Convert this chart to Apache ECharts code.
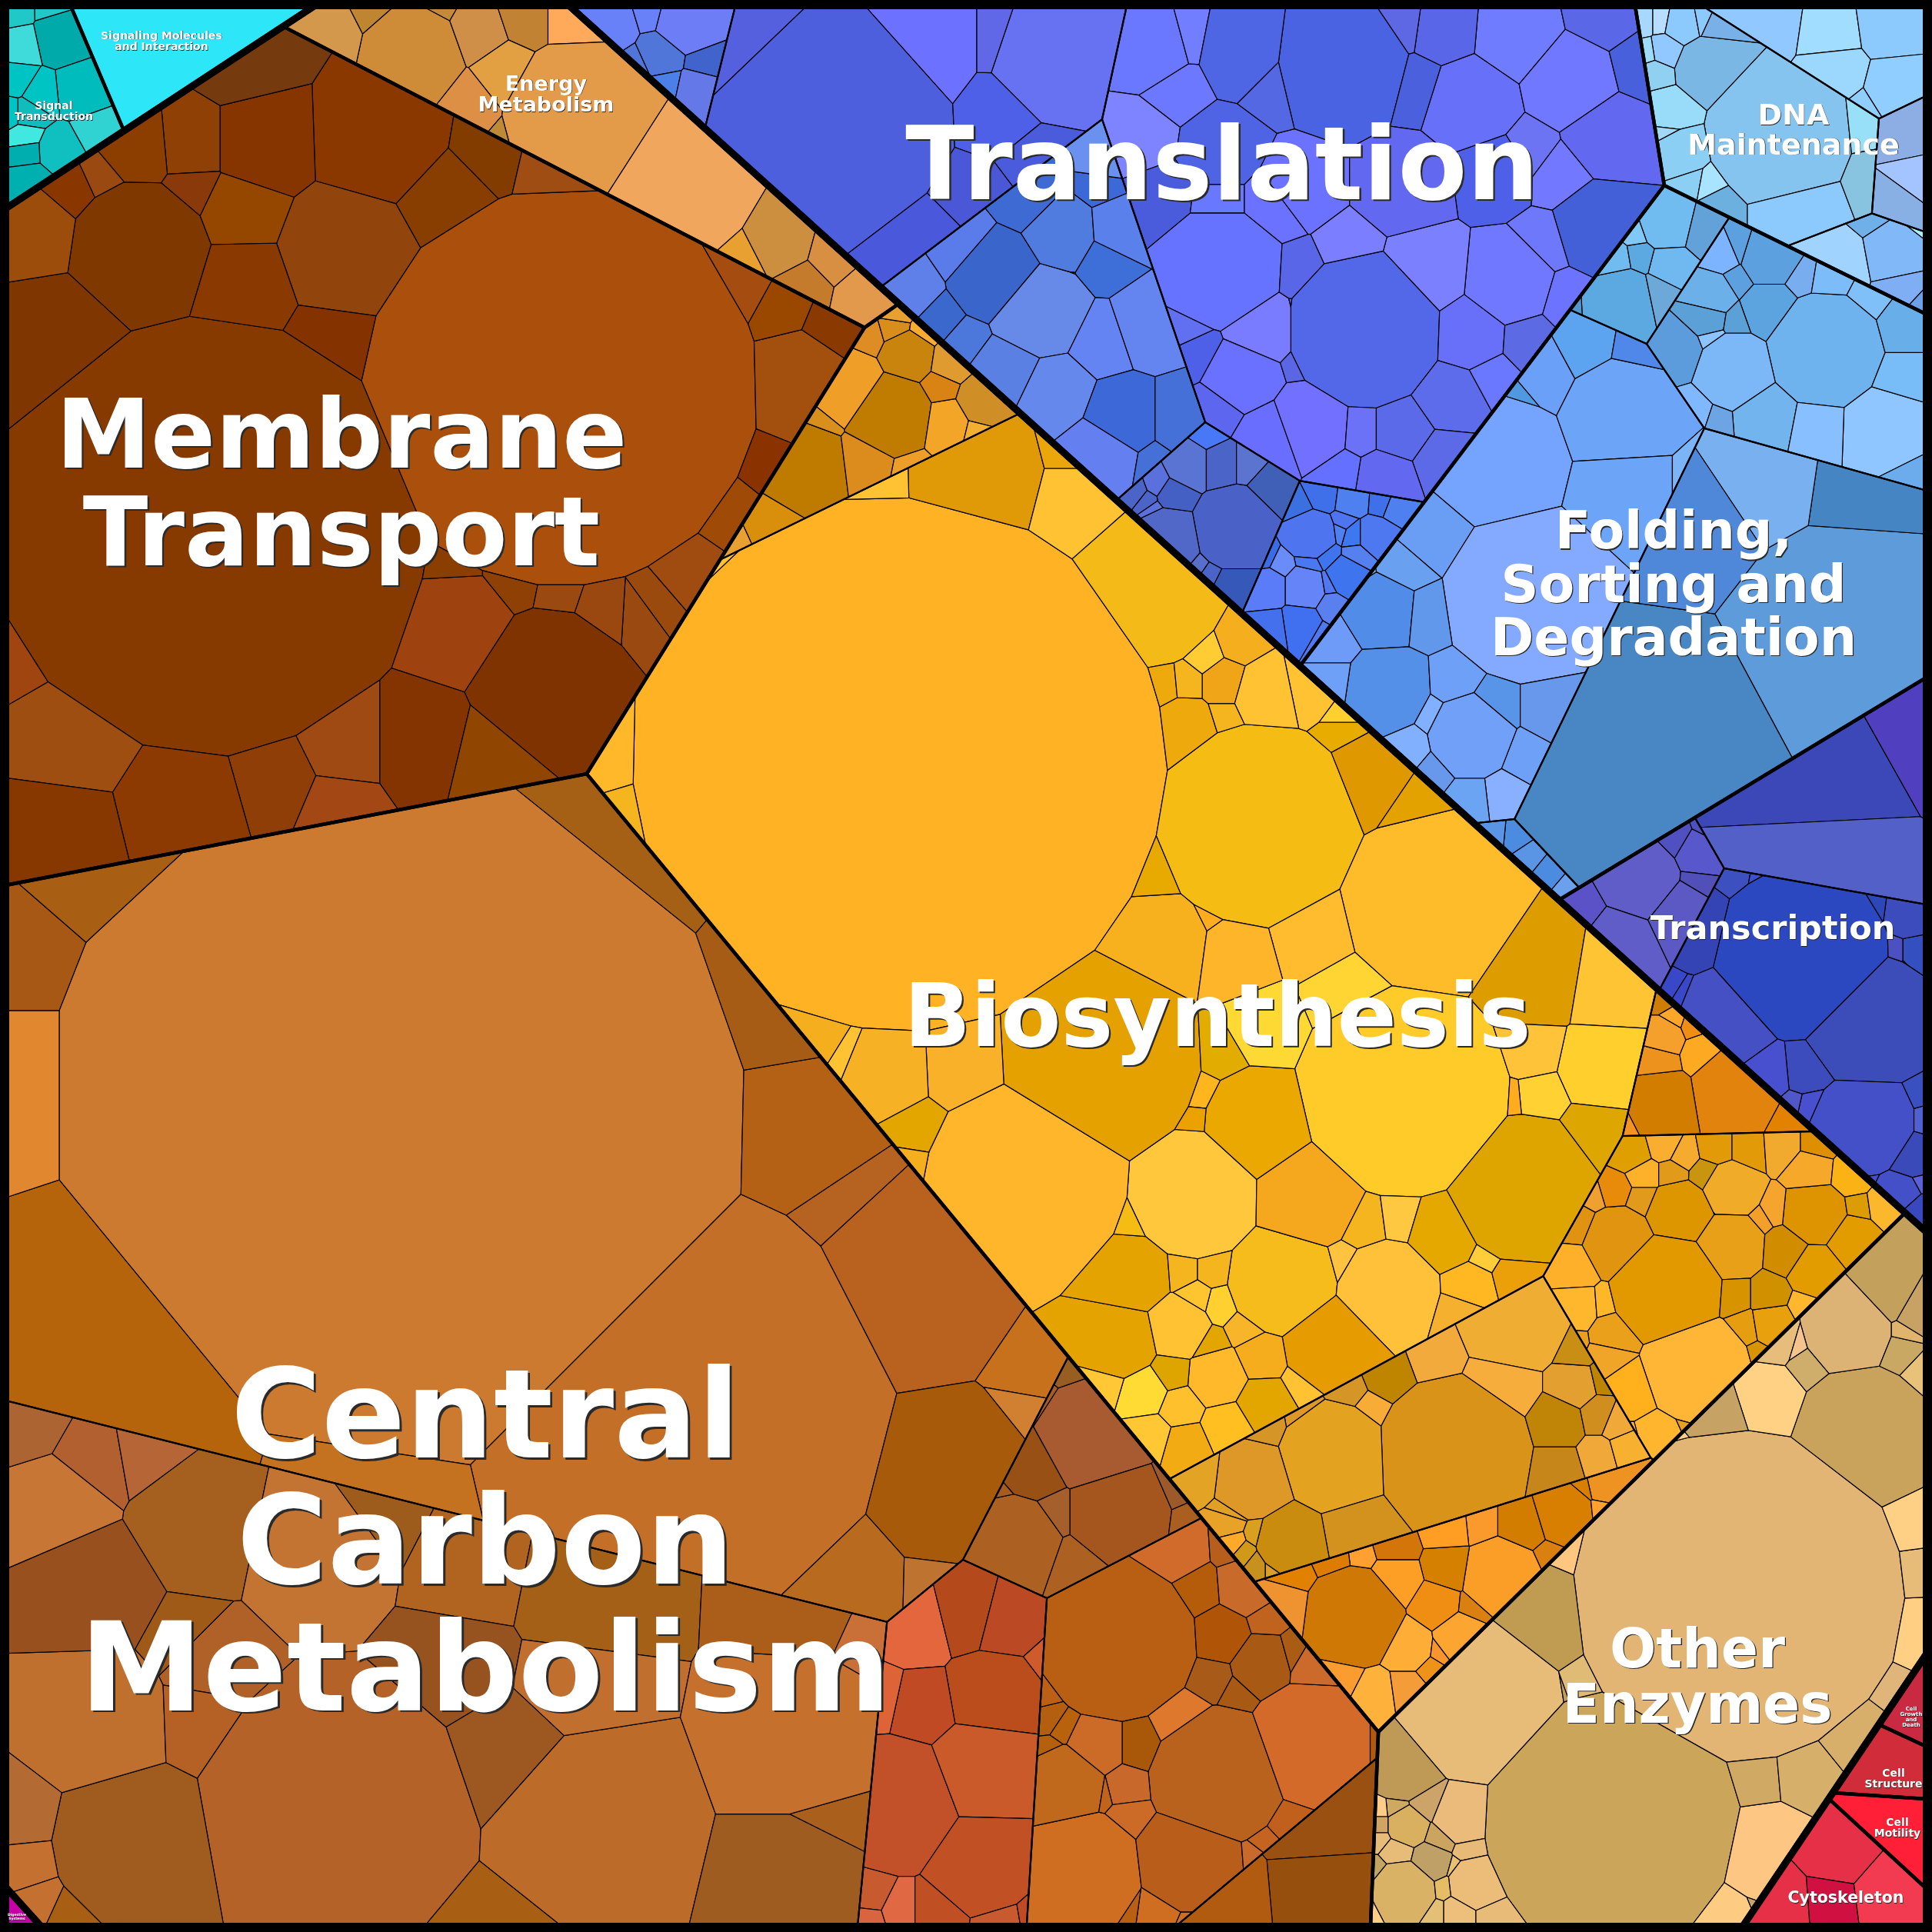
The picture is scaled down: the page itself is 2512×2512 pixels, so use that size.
<!DOCTYPE html>
<html><head><meta charset="utf-8">
<style>html,body{margin:0;padding:0;background:#000}#c{width:2512px;height:2512px}</style>
<script src="https://cdn.jsdelivr.net/npm/echarts@6/dist/echarts.min.js"></script>
</head><body><div id="c"></div>
<script>
// Voronoi-treemap seeds. Every cell is derived at runtime as a power-diagram
// cell of these seeds (x, y, weight or radius) and mapped to the canvas through hidden value axes.
const kingdoms=[['Metabolism',1250,1400,0],['Genetic',2177,374,0],['Environmental',-534,-1318,0],['Cellular',3671,3032,0],['Organismal',-1167,3583,0],['Unclassified',4139,2699,0]];
const pathways=[
['Biosynthesis','Metabolism',1450,1200,1000000],['Central Carbon Metabolism','Metabolism',765,1766,1067600],['Membrane Transport','Metabolism',549,639,670760],['Energy Metabolism','Metabolism',766,220,465248],['Other Enzymes','Metabolism',2059,1818,36000],
['Folding','Genetic',2100,700,200000],['Translation','Genetic',1600,321,309600],['DNA Maintenance','Genetic',2346,200,20100],['Transcription','Genetic',2441,1263,153750],
['Signaling Molecules','Environmental',250,50,0],['Signal Transduction','Environmental',13,151,0],
['Cell Structure','Cellular',2470,2290,0],['Cell Growth','Cellular',2497,2232,0],['Cell Motility','Cellular',2464,2383,0],['Cytoskeleton','Cellular',2429,2421,0],
['Digestive Systems','Organismal',0,0,0],['Unclassified','Unclassified',0,0,0]];

const membraneCells=[[272,697,280,'#873a00'],[729,505,256,'#ab4f0c'],[179,327,88,'#7f3800'],[493,182,88,'#8a3800'],[348,187,65,'#873500'],[453,324,88,'#91450c'],[319,273,50,'#954700'],[321,370,58,'#8a3a00'],[573,257,62,'#883e00'],[249,187,42,'#8f4005'],[182,193,40,'#8c3e00'],[437,440,50,'#843300'],[70,445,85,'#7f3600'],[48,308,50,'#9c4d0c'],[252,241,25,'#8a3a0a'],[96,252,22,'#8a3600'],[131,236,14,'#9a4a10'],[627,204,40,'#833c00'],[718,225,35,'#a04d14'],[320,70,60,'#753a0e'],[715,886,90,'#7f3300'],[596,809,62,'#9e4210'],[545,964,56,'#833400'],[633,985,40,'#904500'],[449,964,50,'#9e4a12'],[365,1006,34,'#8f3e08'],[440,1038,28,'#a34815'],[227,1045,68,'#8c3a02'],[96,961,72,'#9e4e10'],[80,1081,70,'#863800'],[1033,498,65,'#a34f0d'],[1011,407,28,'#9a4800'],[953,375,40,'#a54c10'],[1076,434,22,'#8a3900'],[990,605,22,'#8a3300'],[947,659,30,'#a04a08'],[888,745,35,'#a04c10'],[851,777,28,'#9a4a0c'],[836,788,24,'#9a4a10'],[32,850,28,'#a04510'],[593,753,20,'#8a3f00'],[665,753,25,'#8f4005'],[729,766,18,'#9a4a10'],[785,785,25,'#9a4810']];

const energyCells=[[536,80,72,'#cf8c38'],[420,55,50,'#d3984c'],[485,22,20,'#bf8530'],[568,20,18,'#c48a38'],[620,50,42,'#cf8f48'],[680,30,30,'#c28233'],[651,95,45,'#e3a043'],[603,133,48,'#dd8f45'],[745,30,30,'#ffa95b'],[750,150,95,'#e39a49'],[890,240,85,'#f0a65c'],[1017,316,38,'#cc8f40'],[1080,333,28,'#d98f42'],[1044,368,28,'#c47c2c'],[1125,385,30,'#e2994b'],[386,32,10,'#cf7a33'],[653,176,14,'#bf8a36'],[976,337,10,'#e8a030']];

const bioMainCells=[[1170,993,345,'#ffb224'],[1637,1073,131,'#f5bd14'],[1862,1174,118,'#ffbc2a'],[1826,1418,136,'#ffcb28'],[1982,1546,95,'#dea500'],[1553,1553,82,'#ffc83c'],[1333,1538,130,'#ffb62a'],[1431,1378,128,'#e5a100'],[1490,770,95,'#f3ba18'],[1668,1665,70,'#f5bc1c'],[1804,1678,65,'#ffc13a'],[1700,1555,68,'#f5a81e'],[1636,1462,70,'#eba800'],[1454,1743,50,'#e5a300'],[1470,1657,50,'#e5a300'],[1732,1748,62,'#e69b00'],[1531,1727,40,'#ffc233'],[1582,1791,38,'#ffb92a'],[1641,1764,30,'#f5ad1e'],[1644,1826,35,'#e3a500'],[1596,1855,32,'#ffbf20'],[1488,1810,32,'#ffdb33'],[1542,1879,30,'#f2ab12'],[1534,1829,28,'#ffc02e'],[1496,1866,28,'#ffc733'],[1440,1796,22,'#ffc733'],[1523,1786,25,'#dea500'],[1571,1751,20,'#e3a500'],[1587,1695,18,'#ffd030'],[1555,1687,18,'#ffc530'],[1537,1652,18,'#f5b51e'],[1577,1652,18,'#f5b51e'],[1622,1727,20,'#f9b52a'],[1775,1593,28,'#f5b51e'],[1820,1587,25,'#ffc840'],[1877,1604,45,'#e5a800'],[1746,1644,22,'#ffc340'],[1909,1673,28,'#ffb822'],[1973,1657,25,'#eba00a'],[1930,1630,15,'#ffcc3a'],[1898,1705,25,'#f5b030'],[1695,1796,22,'#ffc233'],[1993,1263,70,'#dd9c00'],[2090,1279,55,'#ffc433'],[2084,1386,52,'#ffcf2e'],[1988,1365,35,'#ffc33a'],[2000,1424,25,'#ffd133'],[2074,1477,38,'#dea600'],[1969,1427,10,'#ffad1e'],[1777,1017,55,'#e09800'],[1833,1055,40,'#e3a200'],[1742,952,15,'#e8ab00'],[1742,926,15,'#ffd02e'],[1699,894,40,'#ffc233'],[1757,1290,50,'#ffd533'],[1712,1210,55,'#ffbc2e'],[1590,1370,20,'#e3ad00'],[1644,1338,40,'#ffd933'],[1510,1226,60,'#f7b11e'],[1606,1239,45,'#ffb52a'],[1504,1129,30,'#e8aa00'],[1542,947,38,'#eeaa0c'],[1593,888,28,'#f0a418'],[1512,891,18,'#eeaa0c'],[1544,888,16,'#f5b51e'],[1569,856,14,'#ffcc33'],[1612,840,18,'#f5ae1e'],[1650,904,45,'#ffc232'],[1593,931,18,'#f5b51e'],[1574,1194,12,'#ffad1e'],[1563,1425,12,'#ffb51e'],[1560,1456,12,'#eba200'],[1258,1387,48,'#f9b12a'],[1151,1392,50,'#f7b124'],[1194,1472,22,'#e3a600'],[1065,1349,25,'#f5ae1e'],[1102,1372,12,'#ffc233'],[1188,1510,12,'#f5ae1e'],[1475,1590,14,'#f5bc14'],[1268,627,85,'#e09a08'],[1392,659,50,'#ffc233'],[1161,630,10,'#ffc233'],[1392,595,14,'#eba60c'],[926,737,12,'#ffc233'],[793,985,14,'#ffb82a'],[817,1065,15,'#f5b51e']];
const bioTopCells=[[1046,605,55,'#bf7a00'],[1156,541,55,'#bf7c00'],[1102,504,48,'#ef9e28'],[1127,595,35,'#dc8c1c'],[1228,552,28,'#f3a528'],[1180,463,32,'#c8840c'],[1279,522,28,'#d08e26'],[1234,471,20,'#df9a30'],[1220,503,14,'#d98314'],[1129,439,14,'#dd8d24'],[1164,429,14,'#d98e1c'],[1167,410,10,'#e8a030'],[1199,434,12,'#f9ab30'],[1068,546,20,'#d98f1c'],[1177,605,15,'#ec9e28'],[998,686,28,'#d98e0c'],[963,702,12,'#e8a030'],[1269,562,10,'#f3b030']];
const bioGoldCells=[[1893,1887,100,'#d99318'],[1735,1893,68,'#e3a220'],[1628,1925,48,'#dd9828'],[1764,1989,35,'#d3921e'],[1676,2005,42,'#c98c0e'],[1968,1721,68,'#f0ad34'],[1866,1764,36,'#f3aa3c'],[1952,1802,50,'#f6ad3c'],[2043,1802,32,'#e3a030'],[2021,1850,38,'#c08506'],[2021,1909,35,'#c6861a'],[2075,1893,22,'#f0a838'],[2075,1839,22,'#d08e1e'],[2115,1882,18,'#f8b030'],[2102,1850,18,'#f0a838'],[2046,1759,22,'#c98e14'],[2078,1794,14,'#bd8400'],[1807,1786,32,'#bf8400'],[1783,1829,15,'#f8ac38'],[1756,1807,16,'#d69527'],[1700,1845,14,'#dd9828'],[1644,1855,12,'#d69527'],[1561,1917,25,'#e3a426'],[1604,1962,14,'#e0a025'],[1598,1981,14,'#e8a228'],[1636,1995,12,'#d9a020'],[1604,2005,10,'#ffa928'],[1620,2019,10,'#d09a18'],[1636,2032,12,'#c8901c'],[1657,2032,14,'#d8a028']];
const bioStripCells=[[1759,2102,65,'#d07806'],[1952,2048,50,'#fa9e28'],[1882,2037,30,'#d58000'],[1866,2086,30,'#ef8e12'],[1815,2054,32,'#fd9f24'],[1979,1984,32,'#d27c00'],[2032,1968,38,'#d87e00'],[1928,1984,20,'#fa9a2c'],[1879,1989,28,'#ff9e22'],[1815,2011,25,'#d4750a'],[1770,2024,12,'#ffa030'],[1732,2029,20,'#dd7c00'],[1684,2051,20,'#e28000'],[1673,2091,32,'#ef9230'],[1829,2139,32,'#feae36'],[1898,2129,32,'#fca530'],[1877,2145,15,'#f9952c'],[1914,2091,15,'#d98010'],[1786,2204,28,'#feb23c'],[1743,2182,25,'#fb9c30'],[1829,2198,22,'#f49c38'],[1861,2171,12,'#ef9318'],[2086,1930,22,'#ee9222'],[2059,1936,12,'#d97f00'],[2080,1963,10,'#ffa030'],[2011,2021,12,'#d98010']];
const bioWedgeCells=[[2256,1419,55,'#e2830e'],[2160,1435,45,'#d27c00'],[2154,1381,25,'#ee921e'],[2162,1349,25,'#f59f2c'],[2213,1370,22,'#fdaa22'],[2176,1325,12,'#fca62a'],[2200,1333,12,'#ef8e12'],[2162,1301,10,'#cf7e05'],[2331,1459,18,'#e38100'],[2119,1456,10,'#f49222']];
const bioRightCells=[[2106,1617,48,'#e09410'],[2184,1579,45,'#dd9500'],[2250,1547,38,'#f0ab28'],[2248,1622,47,'#e8a018'],[2360,1579,42,'#de9300'],[2323,1627,32,'#d18c00'],[2406,1611,32,'#e39c00'],[2358,1650,35,'#e39c00'],[2220,1529,22,'#c9950e'],[2122,1499,25,'#df9f00'],[2162,1488,22,'#f9ae30'],[2189,1502,18,'#f7ab2e'],[2232,1494,22,'#e39a08'],[2272,1494,22,'#e39a08'],[2317,1491,22,'#f1a92e'],[2363,1491,20,'#de8f00'],[2355,1523,28,'#f5a82a'],[2406,1528,25,'#fbb214'],[2414,1571,15,'#dc9c06'],[2449,1566,18,'#fbb82c'],[2138,1528,22,'#fdb02a'],[2173,1528,20,'#e19a1a'],[2101,1547,20,'#e88a0a'],[2138,1560,22,'#e29a1c'],[2074,1555,10,'#f0a030'],[2052,1595,22,'#df9310'],[2229,1566,14,'#f8b020'],[2309,1574,14,'#f5a52e'],[2288,1587,10,'#f3a02a'],[2047,1649,30,'#ffb02a'],[2050,1699,30,'#ffb72e'],[2090,1696,22,'#ffb72a'],[2101,1734,32,'#eba01c'],[2047,1742,10,'#eba01c'],[2205,1779,72,'#ffb636'],[2168,1677,75,'#e29900'],[2251,1683,30,'#d89400'],[2267,1726,25,'#e69e10'],[2304,1720,30,'#e8a00c'],[2299,1683,28,'#cf9100'],[2342,1699,18,'#ffb72e'],[2125,1806,38,'#ffb01c'],[2095,1763,28,'#f0a428'],[2157,1862,30,'#ffb52e'],[2186,1849,14,'#e8a020'],[2127,1870,12,'#ffb72e'],[2283,1758,15,'#d89400']];

// a negative radius stands for a negative seed weight
const carbonACells=[[520,1470,445,'#cb7a2f'],[880,1830,280,'#c46f27'],[1190,1670,130,'#b96220'],[1230,1920,110,'#a75a0a'],[1041,1482,75,'#b46115'],[1105,1578,50,'#b66221'],[1010,1298,50,'#a65c14'],[800,1121,60,'#a66016'],[88,1826,288,'#b5640c'],[-30,1470,115,'#e0872f'],[-30,1254,-87,'#a65814'],[139,1060,-22,'#a85f14'],[1343,1774,35,'#c8711c'],[450,1930,166,'#c47220'],[1088,2047,80,'#b86a1e'],[1214,2050,18,'#be7330'],[1332,1838,15,'#d08030']];
const carbonBCells=[[439,2352,170,'#b46228'],[171,2400,95,'#9f5c1e'],[123,2234,85,'#c0702e'],[118,2068,75,'#98501f'],[257,1983,70,'#a56020'],[70,1956,60,'#c87636'],[113,1902,38,'#b26030'],[40,1860,30,'#ad6433'],[187,1889,16,'#b56536'],[412,2015,78,'#c47432'],[471,1972,35,'#9e5c1c'],[616,2047,50,'#b06420'],[750,2074,60,'#a56018'],[595,2170,60,'#96521f'],[268,2165,35,'#b06128'],[236,2133,15,'#a05a18'],[659,2277,70,'#9c5820'],[761,2368,110,'#bc6c28'],[734,2197,50,'#c06f2e'],[1054,2438,70,'#9e5c20'],[1086,2374,40,'#aa5f1c'],[1054,2261,90,'#c6702d'],[1064,2090,30,'#aa5e1a'],[1134,2122,15,'#c87038'],[21,2368,30,'#b36a33'],[27,2427,30,'#c47030'],[43,2475,25,'#c47030'],[80,2492,10,'#a85f14'],[640,2520,30,'#a85f14'],[257,2229,30,'#b56125']];
const carbonCCells=[[1423,1865,75,'#a85a30'],[1455,1967,68,'#a5561f'],[1345,1908,45,'#995015'],[1316,2007,65,'#ac6022'],[1372,1967,30,'#a45f2d'],[1399,2036,38,'#ac6022'],[1303,1945,18,'#a65c1c'],[1517,1940,22,'#9c5a2a'],[1533,1977,14,'#aa5f20'],[1396,1787,22,'#985d20'],[1364,1827,20,'#a85c20']];
const carbonDCells=[[1193,2117,45,'#e4663c'],[1262,2100,48,'#b44a1c'],[1305,2111,48,'#bb4a24'],[1292,2202,60,'#bb4d1c'],[1201,2218,42,'#c04a24'],[1155,2208,25,'#de6336'],[1166,2347,85,'#c25029'],[1279,2304,70,'#ca5a2a'],[1276,2422,70,'#c15024'],[1225,2481,32,'#c05024'],[1297,2492,28,'#c85a30'],[1166,2481,18,'#e06842'],[1134,2465,20,'#c85a30'],[1131,2492,14,'#d96540'],[1332,2486,10,'#c04a24'],[1348,2159,12,'#cf5a2c']];
const carbonECells=[[1453,2133,105,'#b85f14'],[1584,2309,90,'#b8621e'],[1702,2267,80,'#d36a2a'],[1410,2433,75,'#cf6e20'],[1546,2417,70,'#b95e1a'],[1640,2165,40,'#a85a14'],[1584,2125,40,'#b05408'],[1573,2181,30,'#a85a18'],[1552,2068,38,'#b55c0a'],[1616,2063,38,'#c76a2a'],[1536,2240,42,'#dd782c'],[1608,2200,22,'#a85a14'],[1525,2020,45,'#d06b2c'],[1600,2015,22,'#b85e1c'],[1643,2106,18,'#c0631e'],[1680,2154,22,'#ab5c14'],[1707,2170,30,'#cc6a2c'],[1482,2267,35,'#a85808'],[1429,2267,40,'#cc6a28'],[1383,2245,18,'#b8620e'],[1359,2229,25,'#b45e10'],[1364,2272,12,'#b4600c'],[1386,2320,50,'#c0681c'],[1466,2320,28,'#c8682a'],[1434,2328,14,'#bf6418'],[1471,2360,22,'#cc6a28'],[1640,2390,12,'#c46420'],[1624,2411,12,'#c96a2c'],[1354,2208,25,'#bb6014'],[1790,2267,12,'#b05a10'],[1509,2476,28,'#cf6e20'],[1466,2470,15,'#b85f14'],[1546,2492,12,'#cf6e20'],[1670,2362,22,'#c0601c']];
const carbonFCells=[[1712,2368,70,'#9a5010'],[1718,2459,70,'#974f0e'],[1595,2470,60,'#b15b10']];

const enzymeCells=[[2261,2074,215,'#e2b574'],[2095,2368,165,'#cba55a'],[2422,1865,90,'#c9a25c'],[1921,2208,110,'#e6bc78'],[2403,1736,55,'#dcb374'],[2299,1822,48,'#ffd185'],[2000,2106,70,'#c09c52'],[2299,2411,62,'#fdc682'],[1827,2288,55,'#bf9a56'],[2285,2310,28,'#d0a964'],[2352,2304,40,'#d6b06a'],[2411,2256,45,'#d7af6a'],[2492,2117,38,'#ffd083'],[2489,2047,28,'#e6bc78'],[2481,1988,22,'#fdd085'],[2352,1779,25,'#cfae6c'],[2309,1747,25,'#e6bd7a'],[2470,1763,25,'#c9a864'],[2476,1736,12,'#e0b46c'],[2492,1710,20,'#c7a264'],[2454,1688,25,'#c3a05c'],[2492,1784,22,'#e9c27a'],[2336,1755,12,'#f4c48c'],[2234,1843,45,'#c6a264'],[2208,1865,10,'#ffd083'],[2036,2020,15,'#ffc680'],[1900,2358,42,'#ebbb7c'],[1860,2342,30,'#cca368'],[1833,2374,30,'#d9b060'],[1873,2387,25,'#cba460'],[1819,2350,18,'#cfa862'],[1798,2352,10,'#ffcc88'],[1798,2374,12,'#d0a562'],[1798,2392,12,'#e6bc78'],[1819,2409,22,'#e6bc78'],[1860,2419,28,'#bfa066'],[1825,2459,42,'#d9b265'],[1908,2401,20,'#e8ba78'],[1918,2449,35,'#ebbd78'],[1876,2454,14,'#e6bc64'],[1889,2427,12,'#e9c170'],[1897,2486,22,'#ecc07a'],[1865,2486,15,'#e3c076'],[1934,2486,15,'#e8bb78'],[1793,2433,14,'#c2a560'],[1785,2480,8,'#ffd083'],[2250,2486,28,'#fdcb82'],[2277,2475,8,'#c8a466'],[2454,2200,12,'#e0b57a'],[2020,2192,10,'#bf9c5a'],[2050,2181,18,'#e0bb76']];

const tlBigCells=[[1092,155,135,'#4d5fdc'],[1199,59,60,'#6c72ff'],[1376,80,80,'#6672f2'],[1311,145,40,'#4f60e8'],[1314,59,22,'#6068e8'],[979,37,20,'#5560df'],[1354,198,32,'#4a5cdc'],[1269,262,18,'#4a58d8'],[1215,316,22,'#4a58dc']];
const tlLeftCells=[[894,32,40,'#6d7df5'],[861,72,30,'#4f76d8'],[912,80,22,'#4064cc'],[867,104,20,'#4c80e8'],[904,112,25,'#6478e8'],[798,37,22,'#6880f8'],[830,86,18,'#4f76d8'],[851,21,12,'#6880f8']];
const tlBlueCells=[[1295,359,60,'#3a66cc'],[1352,407,65,'#678ae8'],[1381,305,48,'#507ce0'],[1258,327,40,'#5a7cea'],[1338,262,35,'#3e6ad4'],[1435,337,35,'#3e6ed8'],[1453,300,40,'#5a80ec'],[1429,241,22,'#3c68d8'],[1435,198,35,'#6a90f0'],[1188,375,30,'#5f80e8'],[1226,412,22,'#3a68cc'],[1260,442,25,'#4c78dc'],[1314,482,50,'#5a80e4'],[1370,509,55,'#6488ec'],[1429,445,45,'#6484f4'],[1494,423,50,'#6484f0'],[1456,541,52,'#3c68d8'],[1531,541,38,'#4470d8'],[1429,584,50,'#6480f0'],[1376,348,10,'#5a80ec'],[1494,595,12,'#4470d8']];
const tlDarkCells=[[1606,686,55,'#4a62c8'],[1520,702,42,'#5268c8'],[1528,643,22,'#4460c4'],[1547,605,30,'#5a74d4'],[1587,605,28,'#4a64c8'],[1619,605,22,'#5a74d0'],[1654,637,30,'#4060b8'],[1606,761,25,'#3658b8'],[1504,627,16,'#5a70dc'],[1491,648,10,'#4a64c8'],[1502,664,8,'#5a70dc'],[1477,637,14,'#4a64c8'],[1558,734,10,'#5870cc'],[1574,745,10,'#4a64c8'],[1570,569,16,'#4878f5']];
const tlSmallCells=[[1704,696,32,'#4e74f0'],[1720,643,18,'#3f70ea'],[1758,648,20,'#4e80f0'],[1798,651,15,'#3f70ea'],[1811,656,14,'#4e80f0'],[1693,766,30,'#6484f8'],[1750,747,22,'#3e74ee'],[1688,809,28,'#4070f0'],[1760,696,12,'#3e78f0'],[1787,696,20,'#4e78f0'],[1763,723,12,'#5580f0'],[1723,720,14,'#3e74ee'],[1701,731,14,'#4a78f0'],[1723,761,10,'#5078f0'],[1726,787,14,'#5a80f0'],[1707,820,10,'#5078f0'],[1688,659,14,'#3a70e0'],[1742,691,8,'#4e80f0'],[1747,680,8,'#4e74f0'],[1644,729,16,'#3a6ce6'],[1665,739,18,'#6a8cf8'],[1649,766,30,'#5a7cf8'],[1654,814,26,'#4470ee']];
const tlMainCells=[[1774,429,100,'#5268e8'],[1742,86,85,'#4a63e2'],[1590,348,75,'#6673ff'],[1961,364,55,'#6f78ff'],[1854,354,52,'#7a80ff'],[1908,434,45,'#6870fa'],[1945,225,45,'#4e60e8'],[1913,134,55,'#6770f8'],[2042,107,55,'#7078ff'],[1972,48,48,'#6f7cfe'],[2090,177,50,'#6268f0'],[2028,228,32,'#7278ff'],[2079,295,55,'#4460d8'],[2009,316,28,'#6d78fa'],[1988,198,28,'#6c74f4'],[2127,86,22,'#4860dc'],[2084,24,28,'#5a68e8'],[1878,40,35,'#5a66e8'],[1822,32,22,'#5e68e4'],[1843,112,28,'#4a60dc'],[1825,241,55,'#6268f0'],[1752,327,32,'#7a7eff'],[1688,241,50,'#6b72ff'],[1644,429,45,'#7a7cff'],[1617,493,50,'#6a70ff'],[1590,530,35,'#5c66ef'],[1654,568,50,'#6a6eff'],[1699,552,55,'#7270ff'],[1768,557,25,'#6c72f8'],[1822,557,35,'#5a6ae8'],[1884,514,40,'#5c6cea'],[1876,595,28,'#5c6ae8'],[1801,621,30,'#6268f0'],[1739,611,20,'#6470ff'],[1934,487,20,'#6a78ff'],[1983,439,22,'#5c6ae4'],[2036,386,22,'#6c74ff'],[1688,418,20,'#5a66e8'],[1693,354,28,'#5a66e8'],[1688,471,18,'#5a66e4'],[1558,461,22,'#4f60e8'],[1547,437,8,'#6070f0'],[1531,115,35,'#6b78ff'],[1499,64,50,'#6a78ff'],[1536,54,30,'#707eff'],[1617,70,55,'#4e66e4'],[1483,177,38,'#7e84ff'],[1590,193,50,'#4f64e4'],[1510,252,28,'#4a5cdc'],[1590,262,28,'#6878ff'],[1654,107,40,'#5468e4'],[1660,262,42,'#6b72ff']];

const dnaMainCells=[[2315,177,90,'#84c4ee'],[2336,262,50,'#8ccafd'],[2218,86,35,'#7ab7e4'],[2168,145,22,'#98dcfa'],[2181,201,28,'#8ccff5'],[2194,241,16,'#8ccff5'],[2221,246,12,'#a8e4ff'],[2229,262,14,'#6cb0e0'],[2165,171,8,'#a0d8f5'],[2422,166,20,'#98dff8'],[2433,225,18,'#88c4e0'],[2138,27,14,'#a8d8ff'],[2160,27,14,'#b8deff'],[2186,32,22,'#8ccafd'],[2213,27,10,'#8ccafd'],[2165,64,18,'#90c8ff'],[2146,67,10,'#9cdcf8'],[2154,91,10,'#90d0f0'],[2224,32,8,'#7ab0e8']];
const dnaTopCells=[[2304,32,35,'#90c8ff'],[2379,43,38,'#a0ddff'],[2384,91,38,'#9cd8fd'],[2457,32,40,'#8ccafe'],[2465,112,35,'#90ceff'],[2422,139,8,'#90ceff']];
const dnaRightCells=[[2470,177,35,'#8caee4'],[2481,230,30,'#a4c4ff'],[2465,252,28,'#88b0e4']];
const dnaLowCells=[[2379,343,45,'#a0d4ff'],[2465,327,35,'#80b8f8'],[2492,292,8,'#a8f0ff'],[2433,279,10,'#70b0e8'],[2475,375,22,'#80aef4'],[2492,391,10,'#6ca0e8']];

const foldACells=[[2170,289,35,'#70bcf0'],[2216,300,28,'#62a2d8'],[2106,396,50,'#5ca8e0'],[2154,386,30,'#6ca8d8'],[2095,343,28,'#70bcf0'],[2173,348,28,'#70b8f0'],[2130,337,18,'#5ca8e0'],[2125,305,10,'#80c8f5'],[2050,399,10,'#5098d0']];
const foldBCells=[[2374,455,75,'#6eb2ee'],[2256,482,50,'#7cb8f8'],[2296,541,40,'#72b4ee'],[2178,455,35,'#5c9cdc'],[2451,557,55,'#90c6ff'],[2363,554,35,'#88c0ff'],[2470,493,35,'#78bcf8'],[2470,429,30,'#68aee8'],[2301,337,35,'#5ca0e0'],[2301,402,35,'#5ca4e0'],[2259,324,14,'#5ca0e0'],[2240,332,20,'#7cb4ff'],[2259,364,14,'#5ca0e0'],[2224,386,30,'#6cb0ea'],[2218,412,28,'#5ca0d8'],[2256,418,18,'#5ca0d8'],[2224,437,18,'#8cc4ff'],[2202,536,22,'#7fb8ff'],[2232,546,14,'#6ca4e4'],[2342,364,16,'#78aef0'],[2379,370,22,'#7cbcf8'],[2425,394,22,'#80c0f8'],[2475,605,16,'#6cacec']];
const foldCCells=[[1945,595,80,'#74a4ff'],[2111,536,70,'#6ca4f8'],[2117,637,55,'#6ca4f8'],[2004,482,32,'#6aa0f8'],[2063,450,32,'#5ca4f0'],[2127,461,28,'#4f88e8'],[1859,696,32,'#6a9ef4'],[1988,777,105,'#84aaff'],[1795,793,45,'#508ce8'],[1822,739,25,'#6aa0f0'],[1849,798,22,'#6298ec'],[1768,750,8,'#7ab4f0'],[1726,836,30,'#6e9af8'],[1972,509,10,'#5098e0'],[2202,637,22,'#7cb4f8'],[1801,899,52,'#5490e8'],[1913,958,55,'#70a0f8'],[1940,926,30,'#5894e8'],[2015,926,32,'#6898ec'],[1726,888,30,'#6ea0f8'],[1892,894,18,'#6ea0f8'],[1865,934,16,'#80b0ff'],[1833,974,25,'#80b0ff'],[1983,985,30,'#6ea0f8'],[1956,1033,30,'#88b0ff'],[1865,1001,22,'#6898ec'],[1913,1038,28,'#6ca4f4'],[1897,1060,8,'#6ca4f4']];
const foldDCells=[[2418,832,130,'#5e9bdb'],[2154,974,130,'#4887c4'],[2433,621,30,'#4585c4'],[2288,600,35,'#78b0f0'],[2197,661,12,'#4f88d8']];
const foldECells=[[1972,1089,14,'#4c8ce0'],[1988,1113,14,'#5a94e4'],[2015,1135,16,'#4c8ce0'],[1940,1086,14,'#5a94e4'],[2036,1153,12,'#6aa0ec']];

const txTopCells=[[2374,1006,80,'#3c48b8'],[2379,1108,65,'#5260c8'],[2470,952,30,'#5040c0']];
const txLeftCells=[[2133,1145,50,'#605cc8'],[2213,1108,32,'#5858cc'],[2186,1188,42,'#5c58c4'],[2106,1226,45,'#605cc8'],[2058,1188,22,'#5c52c8'],[2208,1151,22,'#5050b8'],[2229,1076,28,'#4c50c0'],[2186,1092,18,'#5050c0']];
const txMainCells=[[2342,1242,115,'#2c48c0'],[2427,1327,90,'#3c4cb8'],[2253,1322,68,'#4450c4'],[2208,1210,50,'#3444b4'],[2422,1461,70,'#4450c8'],[2352,1381,45,'#3c4cbc'],[2299,1386,42,'#4850d0'],[2326,1346,14,'#3448b8'],[2363,1435,28,'#4850d0'],[2336,1429,18,'#5058c8'],[2481,1499,35,'#3a4ab8'],[2492,1461,22,'#5060d0'],[2457,1239,22,'#4c50c0'],[2486,1239,18,'#3450c0'],[2473,1252,10,'#4c50c0'],[2476,1188,30,'#3c4cbc'],[2438,1183,20,'#2c48b8'],[2433,1531,14,'#4450c8'],[2465,1547,30,'#4450c8'],[2489,1534,14,'#5c60d8'],[2489,1574,18,'#3a48c0'],[2484,1432,14,'#3850c0'],[2170,1285,12,'#3848c8'],[2186,1295,10,'#3848c8'],[2261,1140,10,'#3c50c0'],[2288,1145,10,'#3c50d0']];

const signalCells=[[80,48,32,'#00aaaa'],[29,59,20,'#3fdbdb'],[104,118,30,'#00bcbc'],[54,123,22,'#00c4c4'],[24,104,17,'#00c4c4'],[123,171,20,'#30d2d2'],[78,196,26,'#10c0c0'],[40,145,18,'#10bcbc'],[35,177,12,'#40e8e0'],[38,198,12,'#00aeb0'],[43,236,20,'#00b0b0'],[16,145,10,'#00c4c4'],[70,15,12,'#20c8c8'],[21,16,10,'#20c8c8']];
const moleculeCells=[[250,50,50,'#2de6f8']];
const structureCells=[[2470,2290,50,'#d12c3a']];
const growthCells=[[2497,2232,30,'#c92a42']];
const motilityCells=[[2464,2383,50,'#ff2038']];
const cytoCells=[[2390,2401,50,'#e53048'],[2379,2470,34,'#cf1040'],[2457,2460,45,'#f23a50'],[2310,2475,45,'#e53048']];
const digestiveCells=[[20,2490,20,'#c800a8']];
const unclassifiedCells=[[2500,2495,10,'#8a8a8a']];

// name, pathway, seed x, seed y, seed weight, cells
const groups=[
['main','Biosynthesis',1350,1100,700000,bioMainCells],['top','Biosynthesis',1122,633,433765,bioTopCells],['gold','Biosynthesis',1818,1962,83600,bioGoldCells],['strip','Biosynthesis',1898,2218,137000,bioStripCells],['wedge','Biosynthesis',2325,1325,50200,bioWedgeCells],['right','Biosynthesis',2333,1657,63000,bioRightCells],
['a','Central Carbon Metabolism',700,1500,600000,carbonACells],['b','Central Carbon Metabolism',528,2185,420700,carbonBCells],['c','Central Carbon Metabolism',1486,1908,85668,carbonCCells],['d','Central Carbon Metabolism',1324,2262,76500,carbonDCells],['e','Central Carbon Metabolism',1681,2284,186000,carbonECells],['f','Central Carbon Metabolism',1768,2388,185000,carbonFCells],
['all','Membrane Transport',500,500,0,membraneCells],['all','Energy Metabolism',700,150,0,energyCells],['all','Other Enzymes',2200,2100,0,enzymeCells],
['main','Translation',1750,300,270000,tlMainCells],['big','Translation',1321,207,163734,tlBigCells],['blue','Translation',1465,397,208050,tlBlueCells],['left','Translation',1023,133,11018,tlLeftCells],['dark','Translation',1597,547,175460,tlDarkCells],['small','Translation',1700,592,161900,tlSmallCells],
['main','DNA Maintenance',2250,200,40000,dnaMainCells],['top','DNA Maintenance',2354,37,22297,dnaTopCells],['right','DNA Maintenance',2439,214,4251,dnaRightCells],['low','DNA Maintenance',2352,464,41720,dnaLowCells],
['c','Folding',1900,700,90000,foldCCells],['d','Folding',2357,922,122900,foldDCells],['b','Folding',2542,262,162960,foldBCells],['a','Folding',2195,35,140590,foldACells],['e','Folding',1962,1295,4963,foldECells],
['main','Transcription',2300,1400,70000,txMainCells],['top','Transcription',2337,1193,6316,txTopCells],['left','Transcription',2133,1311,38120,txLeftCells],
['all','Signaling Molecules',250,50,0,moleculeCells],['all','Signal Transduction',13,151,0,signalCells],['all','Cell Structure',0,0,0,structureCells],['all','Cell Growth',0,0,0,growthCells],['all','Cell Motility',0,0,0,motilityCells],['all','Cytoskeleton',0,0,0,cytoCells],['all','Digestive Systems',0,0,0,digestiveCells],['all','Unclassified',0,0,0,unclassifiedCells]];

// text, centre x, centre y, font size
const labels=[['Translation',1589,213,131],['Membrane\nTransport',444,628,124],['Central\nCarbon\nMetabolism',631,2003,161],['Biosynthesis',1583,1320,114],['Folding,\nSorting and\nDegradation',2176,759,68],['Other\nEnzymes',2207,2179,71],['Transcription',2305,1206,43],['DNA\nMaintenance',2332,168,38],['Energy\nMetabolism',710,122,27],['Signaling Molecules\nand Interaction',210,53,14],['Signal\nTransduction',70,144,14],['Cytoskeleton',2400,2467,20.5],['Cell\nMotility',2467,2376,14],['Cell\nStructure',2462,2312,14],['Cell\nGrowth\nand\nDeath',2485,2232,7],['Digestive\nSystems',22,2492,4.5]];

function clipHalf(poly,a,b,c){ // keep a*x+b*y<=c
  const out=[];
  for(let i=0;i<poly.length;i++){
    const p=poly[i],q=poly[(i+1)%poly.length];
    const dp=a*p[0]+b*p[1]-c,dq=a*q[0]+b*q[1]-c;
    if(dp<=0)out.push(p);
    if((dp<0&&dq>0)||(dp>0&&dq<0)){const t=dp/(dp-dq);out.push([p[0]+t*(q[0]-p[0]),p[1]+t*(q[1]-p[1])]);}
  }
  return out;
}
function powerCells(parent,seeds){ // seeds: [x,y,weight]
  return seeds.map((s,i)=>{
    let poly=parent;
    const pi=s[0]*s[0]+s[1]*s[1]-s[2];
    seeds.forEach((o,j)=>{
      if(j===i||poly.length<3)return;
      const pj=o[0]*o[0]+o[1]*o[1]-o[2];
      poly=clipHalf(poly,2*(o[0]-s[0]),2*(o[1]-s[1]),pj-pi);
    });
    return poly;
  });
}
const root=[[-30,-30],[2542,-30],[2542,2542],[-30,2542]];
const l0Polys=powerCells(root,kingdoms.map(k=>[k[1],k[2],k[3]]));
const l1Polys=[],l2Polys=[],leafPolys=[],leafFill=[];
kingdoms.forEach((k,ki)=>{
  const ps=pathways.filter(p=>p[1]===k[0]);
  const pc=powerCells(l0Polys[ki],ps.map(p=>[p[2],p[3],p[4]]));
  ps.forEach((p,pi)=>{
    l1Polys.push(pc[pi]);
    const gs=groups.filter(g=>g[1]===p[0]);
    const gc=powerCells(pc[pi],gs.map(g=>[g[2],g[3],g[4]]));
    gs.forEach((g,gi)=>{
      l2Polys.push(gc[gi]);
      const lc=powerCells(gc[gi],g[5].map(c=>[c[0],c[1],c[2]*Math.abs(c[2])]));
      g[5].forEach((c,ci)=>{leafPolys.push(lc[ci]);leafFill.push(c[3]);});
    });
  });
});
const frame=[[0,0],[2512,0],[2512,2512],[0,2512]];

function polySeries(polys,fills,width){
  return {type:'custom',coordinateSystem:'cartesian2d',clip:false,silent:true,animation:false,
    data:polys.map((p,i)=>[i,0]),encode:{x:0,y:1},
    renderItem:(params,api)=>{
      const pts=polys[params.dataIndex];
      if(!pts||pts.length<3)return null;
      return {type:'polygon',shape:{points:pts.map(q=>api.coord(q))},
        style:{fill:fills?fills[params.dataIndex]:'none',stroke:'#000',lineWidth:width,lineJoin:'miter'}};
    }};
}
const chart=echarts.init(document.getElementById('c'),null,{renderer:'canvas',width:2512,height:2512});
chart.setOption({
  animation:false,backgroundColor:'#000',
  grid:{left:0,right:0,top:0,bottom:0},
  xAxis:{type:'value',min:0,max:2512,show:false},
  yAxis:{type:'value',min:0,max:2512,inverse:true,show:false},
  series:[
    polySeries(leafPolys,leafFill,1.2),
    polySeries(l2Polys,null,2.2),
    polySeries(l1Polys,null,4.5),
    polySeries(l0Polys,null,9),
    polySeries([frame],null,24),
    {type:'custom',coordinateSystem:'cartesian2d',clip:false,silent:true,animation:false,
     data:labels.map(l=>[l[1],l[2],l[3]]),encode:{x:0,y:1},
     renderItem:(params,api)=>{
       const l=labels[params.dataIndex],pt=api.coord([l[1],l[2]]),fs=l[3],sh=Math.max(0.7,fs/55),dy=fs*0.09;
       const base={text:l[0],font:'bold '+fs+'px "DejaVu Sans"',align:'center',verticalAlign:'middle',lineHeight:fs*1.02};
       return {type:'group',children:[
         {type:'text',x:pt[0]+sh,y:pt[1]+dy+sh,style:Object.assign({fill:'#2a2a2a'},base)},
         {type:'text',x:pt[0],y:pt[1]+dy,style:Object.assign({fill:'#fff'},base)}
       ]};
     }}
  ]
});
</script></body></html>
